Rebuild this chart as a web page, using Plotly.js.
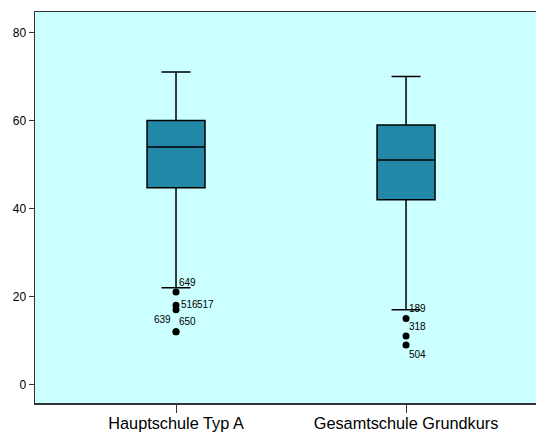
<!DOCTYPE html>
<html>
<head>
<meta charset="utf-8">
<script src="https://cdn.plot.ly/plotly-3.0.1.min.js"></script>
<style>
  html, body { margin: 0; padding: 0; background: #ffffff; }
  #chart { width: 536px; height: 434px; }
</style>
</head>
<body>
<div id="chart"></div>
<script>
// School types and their box-plot summaries
const categories = ["Hauptschule Typ A", "Gesamtschule Grundkurs"];
const lowerWhisker = [22, 17];
const q1Values = [44.7, 42];
const medianValues = [54, 51];
const q3Values = [60, 59];
const upperWhisker = [71, 70];

// Outlying cases: group, value, case number
const outlierGroup = ["Hauptschule Typ A", "Hauptschule Typ A", "Hauptschule Typ A", "Hauptschule Typ A", "Hauptschule Typ A",
                      "Gesamtschule Grundkurs", "Gesamtschule Grundkurs", "Gesamtschule Grundkurs"];
const outlierValue = [21, 18, 17, 12, 12, 15, 11, 9];
const outlierCase = ["649", "516", "517", "639", "650", "189", "318", "504"];

const yTicks = [0, 20, 40, 60, 80];

// label placement per case (pixel offsets from the point)
const labelStyle = {
  "649": { ax: "left", dx: 1, dy: 10 },
  "516": { ax: "left", dx: 3, dy: 1 },
  "517": { ax: "left", dx: 19, dy: 5.5 },
  "639": { ax: "right", dx: -3, dy: 12 },
  "650": { ax: "left", dx: 1, dy: 10 },
  "189": { ax: "left", dx: 1, dy: 10 },
  "318": { ax: "left", dx: 1, dy: 10 },
  "504": { ax: "left", dx: 1, dy: -10 }
};

const boxTrace = {
  type: "box",
  x: categories,
  q1: q1Values,
  median: medianValues,
  q3: q3Values,
  lowerfence: lowerWhisker,
  upperfence: upperWhisker,
  boxpoints: false,
  width: 0.252,
  whiskerwidth: 0.5,
  fillcolor: "#2388a8",
  line: { color: "#000000", width: 1.5 },
  hoverinfo: "skip",
  showlegend: false
};

const outlierTrace = {
  type: "scatter",
  mode: "markers",
  x: outlierGroup,
  y: outlierValue,
  marker: { color: "#000000", size: 7 },
  hoverinfo: "skip",
  showlegend: false
};

const annotations = outlierCase.map((c, i) => {
  const s = labelStyle[c];
  return {
    x: outlierGroup[i],
    y: outlierValue[i],
    xref: "x", yref: "y",
    text: c,
    showarrow: false,
    xanchor: s.ax,
    yanchor: "middle",
    xshift: s.dx,
    yshift: s.dy,
    font: { family: "Liberation Sans, Arial, sans-serif", size: 10, color: "#000000" }
  };
});

const layout = {
  width: 536,
  height: 434,
  margin: { l: 35, r: 0, t: 12, b: 31, pad: 0 },
  paper_bgcolor: "#ffffff",
  plot_bgcolor: "#ccffff",
  font: { family: "Liberation Sans, Arial, sans-serif", color: "#000000" },
  xaxis: {
    type: "category",
    categoryorder: "array",
    categoryarray: categories,
    range: [-0.613, 1.565],
    showgrid: false,
    zeroline: false,
    showline: true,
    mirror: true,
    linecolor: "#333333",
    linewidth: 1.5,
    ticks: "outside",
    ticklen: 8,
    tickwidth: 1,
    tickcolor: "#333333",
    ticklabelstandoff: -3,
    tickfont: { size: 16.3, color: "#000000" },
    fixedrange: true
  },
  yaxis: {
    range: [-4.2, 84.66],
    tickvals: yTicks,
    ticktext: yTicks.map(String),
    showgrid: false,
    zeroline: false,
    showline: true,
    linecolor: "#333333",
    linewidth: 1.5,
    ticks: "outside",
    ticklen: 5,
    tickwidth: 1,
    tickcolor: "#333333",
    tickfont: { size: 12, color: "#000000" },
    fixedrange: true
  },
  annotations: annotations
};

Plotly.newPlot("chart", [boxTrace, outlierTrace], layout, { displayModeBar: false, staticPlot: true });
</script>
</body>
</html>
